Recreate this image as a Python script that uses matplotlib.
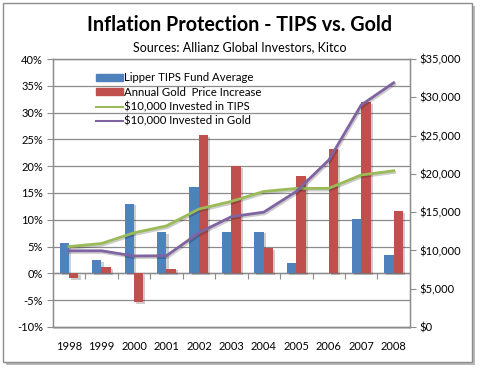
import numpy as np
import matplotlib
matplotlib.use('Agg')
import matplotlib.pyplot as plt
import matplotlib.patheffects as pe
from matplotlib.patches import FancyBboxPatch, Rectangle, Patch
from matplotlib.lines import Line2D
from matplotlib.ticker import FuncFormatter

plt.rcParams['font.family'] = ['Lato', 'DejaVu Sans']

years = ['1998', '1999', '2000', '2001', '2002', '2003', '2004', '2005', '2006', '2007', '2008']
tips_return = [5.6, 2.4, 13.0, 7.7, 16.1, 7.7, 7.8, 2.0, 0.0, 10.1, 3.5]
gold_return = [-0.9, 1.1, -5.4, 0.9, 25.8, 20.0, 4.7, 18.1, 23.3, 32.0, 11.6]
tips_value = [10500, 10900, 12300, 13200, 15400, 16400, 17700, 18100, 18100, 19850, 20400]
gold_value = [9950, 9950, 9270, 9300, 12300, 14400, 15000, 17700, 21800, 29000, 31900]

BLUE = '#4F81BD'
RED = '#C0504D'
GREEN = '#9BBB59'
PURPLE = '#8064A2'
GRID = '#8C8C8C'

fig = plt.figure(figsize=(4.8, 3.69), dpi=100)

# outer chart frame with shadow
fig.patches.append(FancyBboxPatch((0.012, 0.012), 0.978, 0.972, boxstyle='square,pad=0',
                                  transform=fig.transFigure, facecolor='#B8B8B8',
                                  edgecolor='none', zorder=-3))
fig.patches.append(FancyBboxPatch((0.006, 0.02), 0.978, 0.972, boxstyle='square,pad=0',
                                  transform=fig.transFigure, facecolor='white',
                                  edgecolor='#8C8C8C', linewidth=1.0, zorder=-2))

ax = fig.add_axes([0.110, 0.114, 0.744, 0.726])
ax2 = ax.twinx()

# plot area shadow
fig.patches.append(Rectangle((0.113, 0.108), 0.744, 0.726, transform=fig.transFigure,
                             facecolor='#CFCFCF', edgecolor='none', zorder=-1))

x = np.arange(len(years))
w = 0.29
shadow = [pe.SimplePatchShadow(offset=(1.5, -1.2), alpha=0.22), pe.Normal()]
b1 = ax.bar(x - w / 2, tips_return, w, color=BLUE, zorder=3)
b2 = ax.bar(x + w / 2, gold_return, w, color=RED, zorder=3)
for bar in list(b1) + list(b2):
    bar.set_path_effects(shadow)

ax.set_ylim(-10, 40)
ax.set_yticks(np.arange(-10, 41, 5))
ax.yaxis.set_major_formatter(FuncFormatter(lambda v, p: '%d%%' % v))
ax.set_xlim(-0.5, len(years) - 0.5)
ax.set_xticks(x)
ax.set_xticklabels(years)
ax.tick_params(axis='x', length=0, pad=10, labelsize=8)
ax.tick_params(axis='y', direction='out', length=4, color=GRID, labelsize=8, pad=3)
ax.grid(axis='y', color=GRID, linewidth=0.9, zorder=0)
ax.set_axisbelow(True)
for s in ax.spines.values():
    s.set_color(GRID)
    s.set_linewidth(1.0)

# category axis crossing at 0%
sec = ax.secondary_xaxis(0.2)
sec.set_xticks(x[:-1] + 0.5)
sec.tick_params(axis='x', length=4, direction='out', color=GRID, labelbottom=False)
sec.spines['bottom'].set_color(GRID)
sec.spines['bottom'].set_linewidth(1.0)

lshadow = [pe.SimpleLineShadow(offset=(0.8, -1.2), alpha=0.2), pe.Normal()]
ax2.plot(x, tips_value, color=GREEN, linewidth=2.0, path_effects=lshadow, zorder=4)
ax2.plot(x, gold_value, color=PURPLE, linewidth=2.0, path_effects=lshadow, zorder=4)
ax2.set_ylim(0, 35000)
ax2.set_yticks(np.arange(0, 35001, 5000))
ax2.yaxis.set_major_formatter(FuncFormatter(lambda v, p: '${:,.0f}'.format(v)))
ax2.tick_params(axis='y', direction='out', length=4, color=GRID, labelsize=8, pad=3)
for s in ax2.spines.values():
    s.set_color(GRID)

handles = [Patch(color=BLUE), Patch(color=RED),
           Line2D([], [], color=GREEN, linewidth=1.5), Line2D([], [], color=PURPLE, linewidth=1.5)]
labels = ['Lipper TIPS Fund Average', 'Annual Gold  Price Increase',
          '$10,000 Invested in TIPS', '$10,000 Invested in Gold']
leg = ax2.legend(handles, labels, loc='upper left', bbox_to_anchor=(0.1, 0.98), fontsize=8.2,
                 frameon=False, handlelength=2.3, handleheight=0.55, handletextpad=0.15,
                 labelspacing=0.3, borderpad=0.2)

fig.text(0.5, 0.905, 'Inflation Protection - TIPS vs. Gold', ha='center', va='bottom',
         fontsize=14.2, fontweight='bold')
fig.text(0.5, 0.857, 'Sources: Allianz Global Investors, Kitco', ha='center', va='bottom',
         fontsize=9)

fig.savefig('out.png', dpi=100)
